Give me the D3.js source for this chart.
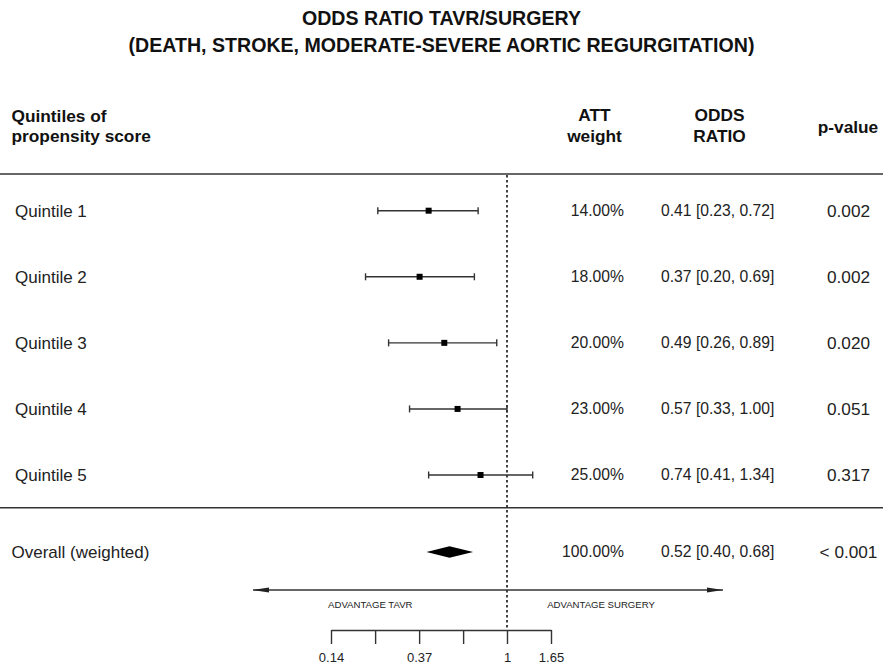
<!DOCTYPE html>
<html>
<head>
<meta charset="utf-8">
<script src="https://cdn.jsdelivr.net/npm/d3@7"></script>
<style>
  html, body { margin: 0; padding: 0; background: #fff; }
  svg { display: block; }
  text { font-family: "Liberation Sans", Arial, Helvetica, sans-serif; }
</style>
</head>
<body>
<svg id="chart" width="883" height="669"></svg>
<script>
// ---------------- DATA ----------------
const titleLines = ["ODDS RATIO TAVR/SURGERY", "(DEATH, STROKE, MODERATE-SEVERE AORTIC REGURGITATION)"];
const categories = ["Quintile 1", "Quintile 2", "Quintile 3", "Quintile 4", "Quintile 5"];
const oddsRatio = [0.41, 0.37, 0.49, 0.57, 0.74];
const ciLower   = [0.23, 0.20, 0.26, 0.33, 0.41];
const ciUpper   = [0.72, 0.69, 0.89, 1.00, 1.34];
const attWeight = ["14.00%", "18.00%", "20.00%", "23.00%", "25.00%"];
const pValues   = ["0.002", "0.002", "0.020", "0.051", "0.317"];
const overallLabel = "Overall (weighted)";
const overallOR = [0.52, 0.40, 0.68];   // estimate, lower, upper
const overallWeight = "100.00%";
const overallP = "< 0.001";
const tickValues = [0.135, 0.223, 0.368, 0.607, 1, 1.65];
const tickLabels = ["0.14", "", "0.37", "", "1", "1.65"];
const arrowLabels = ["ADVANTAGE TAVR", "ADVANTAGE SURGERY"];

// ---------------- DRAW ----------------
const svg = d3.select("#chart");
const ink = "#222";

const x = d3.scaleLog().domain([tickValues[0], tickValues[tickValues.length - 1]]).range([331, 551]);
const y = d3.scaleLinear().domain([0, categories.length - 1]).range([210.7, 475]);
const yOverall = 552;
const fmt = d3.format(".2f");

// Title
svg.selectAll("text.title").data(titleLines).enter().append("text")
  .attr("class", "title")
  .attr("x", 441.5).attr("y", (d, i) => 25 + i * 26.5)
  .attr("text-anchor", "middle")
  .attr("font-size", 19.6).attr("font-weight", "bold").attr("fill", "#111")
  .text(d => d);

// Column headers
const hdr = svg.append("g").attr("font-size", 17.3).attr("font-weight", "bold").attr("fill", "#111");
hdr.append("text").attr("x", 11.5).attr("y", 121.5).text("Quintiles of");
hdr.append("text").attr("x", 11.5).attr("y", 142).text("propensity score");
hdr.append("text").attr("x", 594.5).attr("y", 121).attr("text-anchor", "middle").text("ATT");
hdr.append("text").attr("x", 594.5).attr("y", 142).attr("text-anchor", "middle").text("weight");
hdr.append("text").attr("x", 719.5).attr("y", 121).attr("text-anchor", "middle").text("ODDS");
hdr.append("text").attr("x", 719.5).attr("y", 142).attr("text-anchor", "middle").text("RATIO");
hdr.append("text").attr("x", 848).attr("y", 133).attr("text-anchor", "middle").text("p-value");

// Horizontal rules
[174, 507.7].forEach(yy => {
  svg.append("line").attr("x1", 0).attr("x2", 883).attr("y1", yy).attr("y2", yy)
    .attr("stroke", "#333").attr("stroke-width", 1.4);
});

// Reference (null) line at OR = 1
svg.append("line")
  .attr("x1", x(1)).attr("x2", x(1)).attr("y1", 175).attr("y2", 630)
  .attr("stroke", "#222").attr("stroke-width", 1.7).attr("stroke-dasharray", "2.5,2.5");

// Quintile rows
const rows = svg.selectAll("g.row").data(categories).enter().append("g").attr("class", "row");

rows.append("text")
  .attr("x", 15).attr("y", (d, i) => y(i)).attr("dy", "0.35em")
  .attr("font-size", 17).attr("fill", ink).text(d => d);

rows.append("line")
  .attr("x1", (d, i) => x(ciLower[i])).attr("x2", (d, i) => x(ciUpper[i]))
  .attr("y1", (d, i) => y(i)).attr("y2", (d, i) => y(i))
  .attr("stroke", "#333").attr("stroke-width", 1.4);
rows.append("line")
  .attr("x1", (d, i) => x(ciLower[i])).attr("x2", (d, i) => x(ciLower[i]))
  .attr("y1", (d, i) => y(i) - 3.5).attr("y2", (d, i) => y(i) + 3.5)
  .attr("stroke", "#333").attr("stroke-width", 1.4);
rows.append("line")
  .attr("x1", (d, i) => x(ciUpper[i])).attr("x2", (d, i) => x(ciUpper[i]))
  .attr("y1", (d, i) => y(i) - 3.5).attr("y2", (d, i) => y(i) + 3.5)
  .attr("stroke", "#333").attr("stroke-width", 1.4);
rows.append("rect")
  .attr("x", (d, i) => x(oddsRatio[i]) - 3).attr("y", (d, i) => y(i) - 3)
  .attr("width", 6).attr("height", 6).attr("fill", "#000");

rows.append("text")
  .attr("x", 624).attr("y", (d, i) => y(i)).attr("dy", "0.35em").attr("text-anchor", "end")
  .attr("font-size", 15.7).attr("fill", ink).text((d, i) => attWeight[i]);
rows.append("text")
  .attr("x", 661).attr("y", (d, i) => y(i)).attr("dy", "0.35em")
  .attr("font-size", 15.7).attr("fill", ink)
  .text((d, i) => `${fmt(oddsRatio[i])} [${fmt(ciLower[i])}, ${fmt(ciUpper[i])}]`);
rows.append("text")
  .attr("x", 848.5).attr("y", (d, i) => y(i)).attr("dy", "0.35em").attr("text-anchor", "middle")
  .attr("font-size", 17.2).attr("fill", ink).text((d, i) => pValues[i]);

// Overall row
svg.append("text").attr("x", 11.5).attr("y", yOverall).attr("dy", "0.35em")
  .attr("font-size", 17).attr("fill", ink).text(overallLabel);
const dh = 5.8;
svg.append("path")
  .attr("d", `M${x(overallOR[1])},${yOverall} L${x(overallOR[0])},${yOverall - dh} L${x(overallOR[2])},${yOverall} L${x(overallOR[0])},${yOverall + dh} Z`)
  .attr("fill", "#000");
svg.append("text").attr("x", 624).attr("y", yOverall).attr("dy", "0.35em").attr("text-anchor", "end")
  .attr("font-size", 15.7).attr("fill", ink).text(overallWeight);
svg.append("text").attr("x", 661).attr("y", yOverall).attr("dy", "0.35em")
  .attr("font-size", 15.7).attr("fill", ink)
  .text(`${fmt(overallOR[0])} [${fmt(overallOR[1])}, ${fmt(overallOR[2])}]`);
svg.append("text").attr("x", 848.5).attr("y", yOverall).attr("dy", "0.35em").attr("text-anchor", "middle")
  .attr("font-size", 17.2).attr("fill", ink).text(overallP);

// Double-headed arrow
const defs = svg.append("defs");
["start", "end"].forEach(k => {
  defs.append("marker").attr("id", "arrow-" + k)
    .attr("viewBox", "0 0 16 6").attr("refX", k === "end" ? 16 : 0).attr("refY", 3)
    .attr("markerWidth", 16).attr("markerHeight", 6).attr("markerUnits", "userSpaceOnUse")
    .attr("orient", "auto")
    .append("path")
    .attr("d", k === "end" ? "M0,0.6 L16,3 L0,5.4 Z" : "M16,0.6 L0,3 L16,5.4 Z")
    .attr("fill", "#222");
});
svg.append("line").attr("x1", 253).attr("x2", 723).attr("y1", 590).attr("y2", 590)
  .attr("stroke", "#333").attr("stroke-width", 1.5)
  .attr("marker-start", "url(#arrow-start)").attr("marker-end", "url(#arrow-end)");
svg.append("text").attr("x", 370.3).attr("y", 607.5).attr("text-anchor", "middle")
  .attr("font-size", 9.6).attr("fill", "#222").text(arrowLabels[0]);
svg.append("text").attr("x", 601).attr("y", 607.5).attr("text-anchor", "middle")
  .attr("font-size", 9.6).attr("fill", "#222").text(arrowLabels[1]);

// Axis
const axis = d3.axisBottom(x)
  .tickValues(tickValues)
  .tickFormat((d, i) => tickLabels[i])
  .tickSize(14).tickSizeOuter(0).tickPadding(8.5);
const gAxis = svg.append("g").attr("transform", "translate(0,630)").call(axis);
gAxis.select(".domain").attr("stroke", "#333").attr("stroke-width", 1.4);
gAxis.selectAll(".tick line").attr("stroke", "#333").attr("stroke-width", 1.4);
gAxis.selectAll(".tick text").attr("font-size", 13).attr("fill", "#222")
  .attr("font-family", "\"Liberation Sans\", Arial, Helvetica, sans-serif");
</script>
</body>
</html>
